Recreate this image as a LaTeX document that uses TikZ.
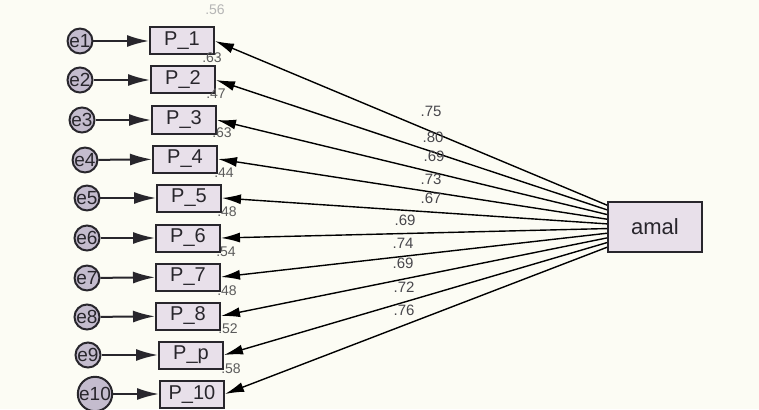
\documentclass[tikz,border=0pt]{standalone}
\usepackage{fontspec}
\setmainfont{Liberation Sans}
\usetikzlibrary{arrows.meta,calc}
\definecolor{bgcream}{RGB}{252,252,244}
\definecolor{boxfill}{RGB}{232,224,234}
\definecolor{errfill}{RGB}{196,188,206}
\definecolor{edgegray}{RGB}{40,38,44}
\definecolor{numgray}{RGB}{90,90,90}
\tikzset{
  obs/.style={draw=edgegray, line width=2pt, fill=boxfill, minimum width=64pt, minimum height=27pt, inner sep=0pt, font=\fontsize{20}{20}\selectfont, text=edgegray},
  lat/.style={obs, minimum width=94pt, minimum height=50pt, font=\fontsize{22}{22}\selectfont},
  err/.style={circle, draw=edgegray, line width=2pt, fill=errfill, minimum size=22pt, inner sep=0pt, font=\fontsize{19}{19}\selectfont, text=edgegray},
  rsq/.style={text=numgray, font=\fontsize{14}{14}\selectfont, inner sep=0pt},
  ld/.style={text=edgegray!85, font=\fontsize{15}{15}\selectfont, inner sep=0pt},
  path/.style={->, line width=1.4pt, draw=black, >={Latex[length=19pt,width=10pt]}},
  errpath/.style={->, line width=2pt, draw=edgegray, >={Latex[length=22pt,width=12pt]}}
}
\begin{document}
\begin{tikzpicture}[x=1pt, y=-1pt]
\fill[bgcream] (0,0) rectangle (759,409);
\useasboundingbox (0,0) rectangle (759,409);
\node[lat] (amal) at (655,227) {amal};
\node[obs] (p1) at (182,41) {P\_1};
\node[obs] (p2) at (183,80) {P\_2};
\node[obs] (p3) at (184,120) {P\_3};
\node[obs] (p4) at (185,159) {P\_4};
\node[obs] (p5) at (189,198) {P\_5};
\node[obs] (p6) at (188,238) {P\_6};
\node[obs] (p7) at (188,277) {P\_7};
\node[obs] (p8) at (188,316) {P\_8};
\node[obs] (p9) at (191,355) {P\_p};
\node[obs] (p10) at (192,394) {P\_10};
\node[err] (e1) at (80,41) {e1};
\node[err] (e2) at (80,80) {e2};
\node[err] (e3) at (82,120) {e3};
\node[err] (e4) at (85,160) {e4};
\node[err] (e5) at (87,198) {e5};
\node[err] (e6) at (87,238) {e6};
\node[err] (e7) at (87,278) {e7};
\node[err] (e8) at (87,317) {e8};
\node[err] (e9) at (88,355) {e9};
\node[err] (e10) at (95,394) {e10};
\draw[errpath] (e1) -- (p1);
\draw[errpath] (e2) -- (p2);
\draw[errpath] (e3) -- (p3);
\draw[errpath] (e4) -- (p4);
\draw[errpath] (e5) -- (p5);
\draw[errpath] (e6) -- (p6);
\draw[errpath] (e7) -- (p7);
\draw[errpath] (e8) -- (p8);
\draw[errpath] (e9) -- (p9);
\draw[errpath] (e10) -- (p10);
\draw[path] ($(amal.north west)!0.08!(amal.south west)$) -- (p1.east);
\draw[path] ($(amal.north west)!0.17!(amal.south west)$) -- (p2.east);
\draw[path] ($(amal.north west)!0.26!(amal.south west)$) -- (p3.east);
\draw[path] ($(amal.north west)!0.35!(amal.south west)$) -- (p4.east);
\draw[path] ($(amal.north west)!0.44!(amal.south west)$) -- (p5.east);
\draw[path] ($(amal.north west)!0.53!(amal.south west)$) -- (p6.east);
\draw[path] ($(amal.north west)!0.62!(amal.south west)$) -- (p7.east);
\draw[path] ($(amal.north west)!0.71!(amal.south west)$) -- (p8.east);
\draw[path] ($(amal.north west)!0.80!(amal.south west)$) -- (p9.east);
\draw[path] ($(amal.north west)!0.89!(amal.south west)$) -- (p10.east);
\node[ld] (l1) at (431,111) {.75};
\node[ld] (l2) at (433,137) {.80};
\node[ld] (l3) at (434,156) {.69};
\node[ld] (l4) at (431,179) {.73};
\node[ld] (l5) at (431,198) {.67};
\node[ld] (l6) at (405,220) {.69};
\node[ld] (l7) at (403,243) {.74};
\node[ld] (l8) at (403,263) {.69};
\node[ld] (l9) at (404,287) {.72};
\node[ld] (l10) at (404,310) {.76};
\node[rsq, text=numgray!45] (r0) at (215,10) {.56};
\node[rsq] (r1) at (212,58) {.63};
\node[rsq] (r2) at (216,94) {.47};
\node[rsq] (r3) at (222,133) {.63};
\node[rsq] (r4) at (224,173) {.44};
\node[rsq] (r5) at (227,212) {.48};
\node[rsq] (r6) at (226,252) {.54};
\node[rsq] (r7) at (227,291) {.48};
\node[rsq] (r8) at (228,329) {.52};
\node[rsq] (r9) at (231,369) {.58};
\end{tikzpicture}
\end{document}
